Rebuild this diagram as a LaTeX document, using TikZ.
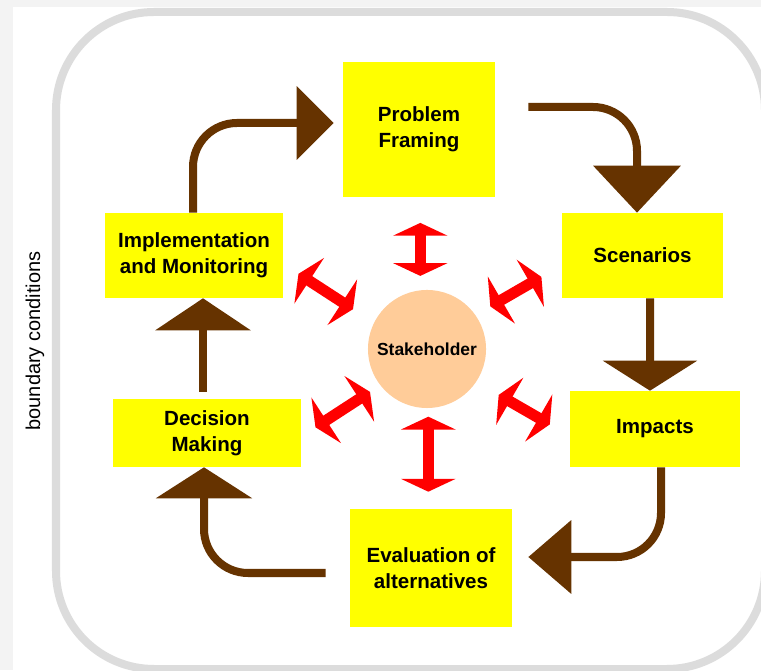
\documentclass[tikz,border=0pt]{standalone}
\usepackage{fontspec}
\setmainfont{Liberation Sans}
\usetikzlibrary{arrows.meta}

\definecolor{boxyellow}{HTML}{FFFF00}
\definecolor{peach}{HTML}{FFCC99}
\definecolor{loopbrown}{HTML}{663300}
\definecolor{framegray}{HTML}{DCDCDC}
\definecolor{pagegray}{HTML}{F3F3F3}

\begin{document}
\begin{tikzpicture}[x=0.025cm, y=0.025cm,
  stage/.style = {fill=boxyellow, inner sep=0pt, align=center,
    font=\fontsize{14.6}{18.5}\selectfont\bfseries},
  flow/.style = {loopbrown, line width=0.2cm, rounded corners=1.1cm},
  twoway/.style = {red, line width=0.275cm,
    arrows = {Triangle[length=0.32cm,width=1.35cm]-Triangle[length=0.32cm,width=1.35cm]}}]
\clip (0,0) rectangle (761,670);
\fill[pagegray] (0,0) rectangle (761,670);
\fill[white] (13,0) rectangle (761,663);
\draw[framegray, line width=0.2cm, rounded corners=2.45cm] (56,1) rectangle (765,658);

\node[rotate=90, font=\fontsize{14.2}{17}\selectfont] (bc) at (35,329) {boundary conditions};

\node[stage, minimum width=3.8cm, minimum height=3.375cm] (pf) at (419,540.5) {Problem\\Framing};
\node[stage, minimum width=4.025cm, minimum height=2.125cm] (scen) at (642.5,414.5) {Scenarios};
\node[stage, minimum width=4.25cm, minimum height=1.9cm] (imp) at (655,241) {Impacts};
\node[stage, minimum width=4.05cm, minimum height=2.95cm] (eval) at (431,102) {Evaluation of\\alternatives};
\node[stage, minimum width=4.7cm, minimum height=1.7cm] (dec) at (207,237) {Decision\\Making};
\node[stage, minimum width=4.45cm, minimum height=2.125cm] (impl) at (194,414.5) {Implementation\\and Monitoring};

\node[circle, fill=peach, minimum size=2.95cm, inner sep=0pt,
  font=\fontsize{12.4}{14}\selectfont\bfseries] (stake) at (427,321) {Stakeholder};

% the cycle
\draw[flow, -{Triangle[length=1.175cm,width=2.15cm]}]
  ([shift={(33,22.5)}]pf.east) -| ([shift={(-5.5,0)}]scen.north);
\draw[flow, -{Triangle[length=0.75cm,width=2.325cm]}]
  ([shift={(7.5,0)}]scen.south) -- ([shift={(-5,0)}]imp.north);
\draw[flow, -{Triangle[length=1.075cm,width=1.8cm]}]
  ([shift={(6,0)}]imp.south) |- ([shift={(16,11)}]eval.east);
\draw[flow, -{Triangle[length=0.775cm,width=2.375cm]}]
  ([shift={(-24,-5)}]eval.west) -| ([shift={(-3,0)}]dec.south);
\draw[flow, -{Triangle[length=0.8cm,width=2.35cm]}]
  ([shift={(-4,7)}]dec.north) -- ([shift={(9,0)}]impl.south);
\draw[flow, -{Triangle[length=0.925cm,width=1.8cm]}]
  ([shift={(-1,0)}]impl.north) |- ([shift={(-9,6.5)}]pf.west);

% exchange with the stakeholder
\draw[twoway] ([shift={(-6.7,73.1)}]stake.center) -- ++(0,53);
\draw[twoway] ([shift={(1.3,-142.7)}]stake.center) -- ++(0,75);
\draw[twoway] ([shift={(-74,39.8)}]stake.center) -- ++(147:65);
\draw[twoway] ([shift={(63.3,42.6)}]stake.center) -- ++(30:59);
\draw[twoway] ([shift={(-57,-42.9)}]stake.center) -- ++(213:65);
\draw[twoway] ([shift={(71.7,-45.9)}]stake.center) -- ++(-30:59);
\end{tikzpicture}
\end{document}
